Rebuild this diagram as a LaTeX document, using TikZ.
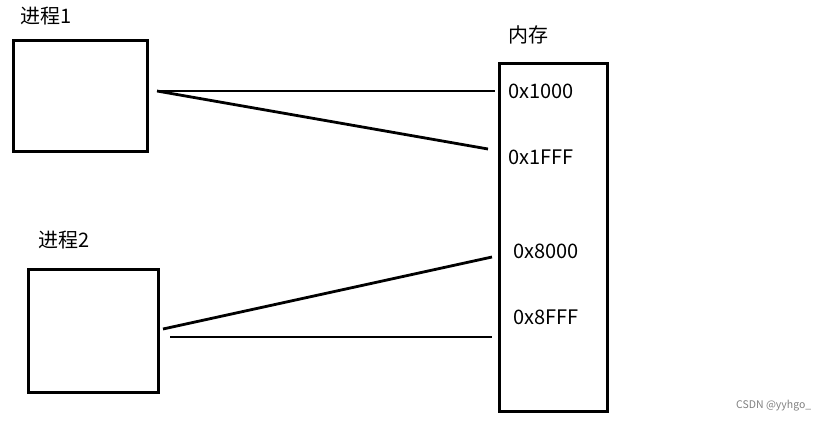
\documentclass[tikz,border=0pt]{standalone}
\usepackage{fontspec}
\setmainfont{Noto Sans CJK SC}

\begin{document}
\begin{tikzpicture}[x=1pt,y=-1pt,
    box/.style={draw, line width=2.8pt, inner sep=0pt},
    link/.style={line width=2.8pt},
    lbl/.style={anchor=west, inner sep=0pt, font=\fontsize{20}{24}\selectfont}]
    \useasboundingbox (0,0) rectangle (829,421);
    \node[box, minimum width=134pt, minimum height=111pt] (proc1) at (80.5,96) {};
    \node[box, minimum width=130pt, minimum height=123pt] (proc2) at (93.5,331) {};
    \node[box, minimum width=108pt, minimum height=348pt] (mem) at (553.5,237.5) {};
    \node[lbl] (name1) at (20,16) {进程1};
    \node[lbl] (name2) at (38,240) {进程2};
    \node[lbl] (memname) at (508,35) {内存};
    \node[lbl] (addr1) at (508,91) {0x1000};
    \node[lbl] (addr2) at (508,157) {0x1FFF};
    \node[lbl] (addr3) at (513,251) {0x8000};
    \node[lbl] (addr4) at (513,317) {0x8FFF};
    \coordinate (p1) at (157,91);
    \coordinate (p2a) at (163,329);
    \coordinate (p2b) at (170,337);
    \coordinate (m1) at (495,91);
    \coordinate (m2) at (488,149);
    \coordinate (m3) at (492,257);
    \coordinate (m4) at (492,337);
    \draw[link] (p1) -- (m1);
    \draw[link] (p1) -- (m2);
    \draw[link] (p2a) -- (m3);
    \draw[link] (p2b) -- (m4);
    \node[anchor=west, inner sep=0pt, gray, font=\fontsize{10.5}{12}\selectfont] (mark) at (736,406) {CSDN @yyhgo\_};
\end{tikzpicture}
\end{document}
